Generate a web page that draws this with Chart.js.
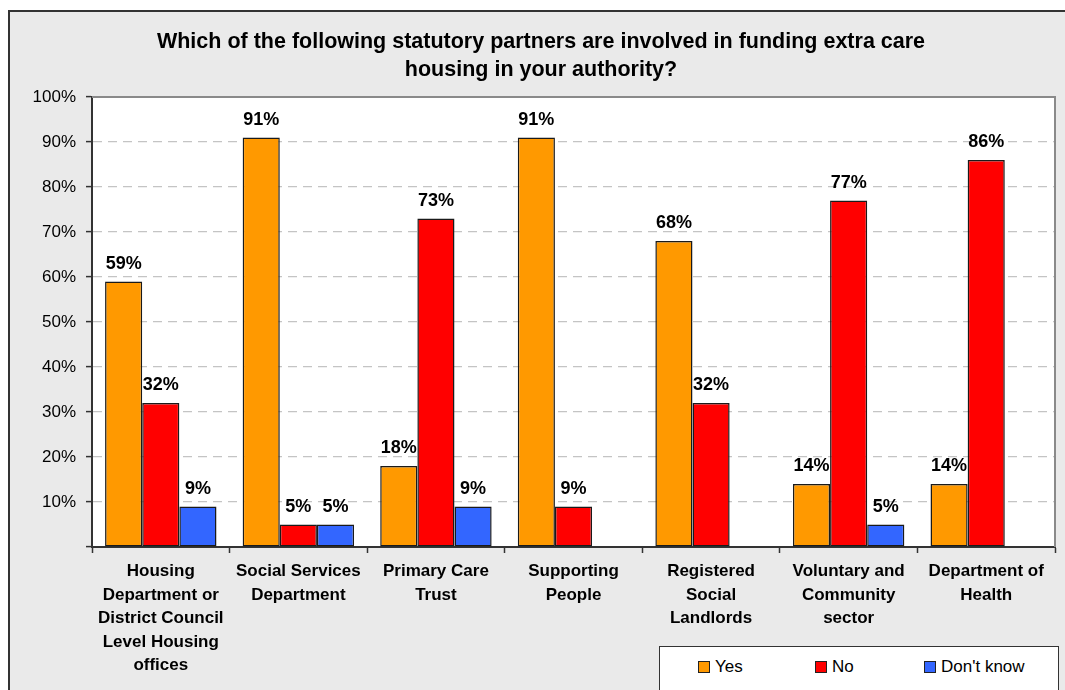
<!DOCTYPE html>
<html>
<head>
<meta charset="utf-8">
<script src="https://cdn.jsdelivr.net/npm/chart.js@4"></script>
<style>
  html, body { margin: 0; padding: 0; background: #fff; overflow: hidden; width: 1065px; height: 690px; }
  #frame { position: absolute; left: 8px; top: 10px; width: 1062px; height: 680px;
           border: 2px solid #333; background: #eaeaea; }
  #legend { position: absolute; left: 659px; top: 646px; width: 398px; height: 60px;
            background: #fff; border: 1px solid #333; font: 17px "Liberation Sans", Arial, sans-serif; }
  .item { position: absolute; top: 10px; display: flex; align-items: center; }
  .swatch { width: 10px; height: 10px; border: 1px solid #222; margin-right: 5px; }
</style>
</head>
<body>
<div id="frame"><canvas id="chart" width="1062" height="680"></canvas></div>
<div id="legend"></div>
<script>
const titleLines = ['Which of the following statutory partners are involved in funding extra care',
                    'housing in your authority?'];
const categories = [
  ['Housing', 'Department or', 'District Council', 'Level Housing', 'offices'],
  ['Social Services', 'Department'],
  ['Primary Care', 'Trust'],
  ['Supporting', 'People'],
  ['Registered', 'Social', 'Landlords'],
  ['Voluntary and', 'Community', 'sector'],
  ['Department of', 'Health']
];
const yesValues = [59, 91, 18, 91, 68, 14, 14];
const noValues = [32, 5, 73, 9, 32, 77, 86];
const dontKnowValues = [9, 5, 9, 0, 0, 5, 0];
const seriesNames = ['Yes', 'No', "Don't know"];
const seriesColors = ['#ff9900', '#ff0000', '#3366ff'];
const legendOffsets = [38, 155, 264];

const FONT = '"Liberation Sans", Arial, sans-serif';

// white plot background, grey top/right edge, title and value labels
const decorations = {
  id: 'decorations',
  beforeDraw(chart) {
    const { ctx, chartArea: a } = chart;
    ctx.save();
    ctx.fillStyle = '#fff';
    ctx.fillRect(a.left, a.top, a.right - a.left, a.bottom - a.top);
    ctx.restore();
  },
  afterDatasetsDraw(chart) {
    const { ctx, chartArea: a } = chart;
    ctx.save();
    ctx.strokeStyle = '#8a8a8a';
    ctx.lineWidth = 2;
    ctx.beginPath();
    ctx.moveTo(a.left, a.top);
    ctx.lineTo(a.right, a.top);
    ctx.lineTo(a.right, a.bottom);
    ctx.stroke();

    ctx.fillStyle = '#000';
    ctx.textAlign = 'center';
    ctx.textBaseline = 'alphabetic';
    ctx.font = 'bold 21.5px ' + FONT;
    titleLines.forEach((line, i) => ctx.fillText(line, chart.width / 2, 36 + i * 28));

    ctx.font = 'bold 18px ' + FONT;
    chart.data.datasets.forEach((ds, di) => {
      chart.getDatasetMeta(di).data.forEach((bar, i) => {
        const v = ds.data[i];
        if (!v) return;
        ctx.fillText(v + '%', bar.x, bar.y - 13);
      });
    });
    ctx.restore();
  }
};

const datasets = [yesValues, noValues, dontKnowValues].map((values, i) => ({
  label: seriesNames[i],
  data: values,
  backgroundColor: seriesColors[i],
  borderColor: '#1a1a1a',
  borderWidth: c => (c.raw ? 1.5 : 0),
  borderSkipped: false,
  barPercentage: 1,
  categoryPercentage: 0.81
}));

new Chart(document.getElementById('chart'), {
  type: 'bar',
  data: { labels: categories, datasets },
  options: {
    responsive: false,
    animation: false,
    devicePixelRatio: 1,
    layout: { padding: { top: 85, right: 17, left: 0, bottom: 0 } },
    plugins: { legend: { display: false }, title: { display: false }, tooltip: { enabled: false } },
    scales: {
      x: {
        afterFit: s => { s.height = 145; },
        border: { color: '#333', width: 2 },
        grid: { drawOnChartArea: false, drawTicks: true, tickLength: 6, tickColor: '#333', tickWidth: 1.5 },
        ticks: {
          color: '#000', padding: 7, maxRotation: 0, autoSkip: false,
          font: { family: FONT, size: 17, weight: 'bold', lineHeight: 1.38 }
        }
      },
      y: {
        min: 0, max: 100,
        afterFit: s => { s.width = 82; },
        border: { color: '#333', width: 2, dash: [9, 6] },
        grid: {
          color: c => (c.tick && (c.tick.value === 0 || c.tick.value === 100) ? 'rgba(0,0,0,0)' : '#c4c4c4'),
          lineWidth: 1.2,
          tickLength: 6, tickColor: '#333', tickWidth: 1.5, tickBorderDash: []
        },
        ticks: {
          stepSize: 10, color: '#000', padding: 10,
          font: { family: FONT, size: 17 },
          callback: v => (v === 0 ? '' : v + '%')
        }
      }
    }
  },
  plugins: [decorations]
});

// legend box built from the series names and colours
const legend = document.getElementById('legend');
seriesNames.forEach((name, i) => {
  const item = document.createElement('div');
  item.className = 'item';
  item.style.left = legendOffsets[i] + 'px';
  const sw = document.createElement('span');
  sw.className = 'swatch';
  sw.style.background = seriesColors[i];
  item.appendChild(sw);
  item.appendChild(document.createTextNode(name));
  legend.appendChild(item);
});
</script>
</body>
</html>
